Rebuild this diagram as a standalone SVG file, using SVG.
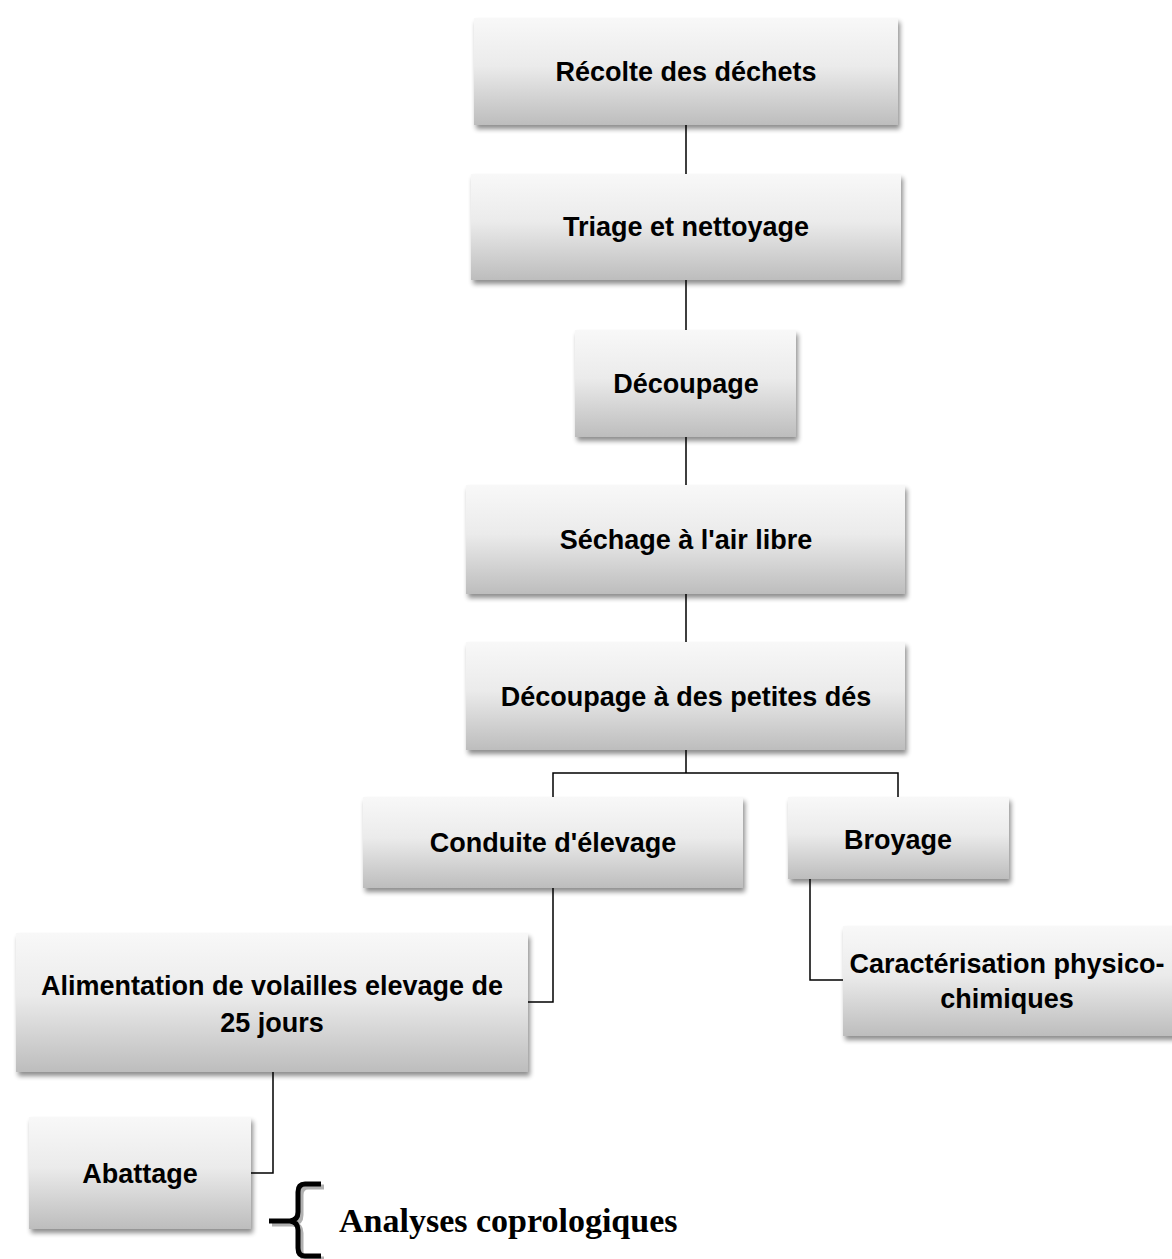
<svg xmlns="http://www.w3.org/2000/svg" width="1172" height="1259" viewBox="0 0 1172 1259">
<defs>
<linearGradient id="g" x1="0" y1="0" x2="0" y2="1">
<stop offset="0" stop-color="#f8f8f8"/>
<stop offset="0.45" stop-color="#ebebeb"/>
<stop offset="1" stop-color="#bdbdbd"/>
</linearGradient>
<filter id="sh" x="-5%" y="-5%" width="115%" height="125%">
<feGaussianBlur in="SourceAlpha" stdDeviation="2.5"/>
<feOffset dx="2" dy="4" result="b"/>
<feComponentTransfer><feFuncA type="linear" slope="0.45"/></feComponentTransfer>
<feMerge><feMergeNode/><feMergeNode in="SourceGraphic"/></feMerge>
</filter>
</defs>
<style>
.box{fill:url(#g);filter:url(#sh)}
.t{font-family:"Liberation Sans",Arial,sans-serif;font-weight:bold;font-size:27px;fill:#000;text-anchor:middle}
.c{fill:none;stroke:#000;stroke-width:1.5}
.an{font-family:"Liberation Serif","Times New Roman",serif;font-weight:bold;font-size:34px;fill:#000}
</style>
<rect width="1172" height="1259" fill="#fff"/>
<g id="connectors">
<path class="c" d="M686 125V174M686 280V330M686 437V485M686 594V642M686 750V773M553 797V773H898V797"/>
<path class="c" d="M553 888V1002H528"/>
<path class="c" d="M810 879V980H843"/>
<path class="c" d="M273 1072V1173H251"/>
</g>
<g id="n1"><rect class="box" x="474" y="18" width="424" height="107"/><text class="t" x="686" y="81">Récolte des déchets</text></g>
<g id="n2"><rect class="box" x="471" y="174" width="430" height="106"/><text class="t" x="686" y="236">Triage et nettoyage</text></g>
<g id="n3"><rect class="box" x="575" y="330" width="221" height="107"/><text class="t" x="686" y="393">Découpage</text></g>
<g id="n4"><rect class="box" x="466" y="485" width="439" height="109"/><text class="t" x="686" y="549">Séchage à l'air libre</text></g>
<g id="n5"><rect class="box" x="466" y="642" width="439" height="108"/><text class="t" x="686" y="706">Découpage à des petites dés</text></g>
<g id="n6"><rect class="box" x="363" y="797" width="380" height="91"/><text class="t" x="553" y="852">Conduite d'élevage</text></g>
<g id="n7"><rect class="box" x="788" y="797" width="221" height="82"/><text class="t" x="898" y="849">Broyage</text></g>
<g id="n8"><rect class="box" x="843" y="926" width="340" height="110"/><text class="t" x="1007" y="973">Caractérisation physico-</text><text class="t" x="1007" y="1008">chimiques</text></g>
<g id="n9"><rect class="box" x="16" y="933" width="512" height="139"/><text class="t" x="272" y="995">Alimentation de volailles elevage de</text><text class="t" x="272" y="1032">25 jours</text></g>
<g id="n10"><rect class="box" x="29" y="1117" width="222" height="112"/><text class="t" x="140" y="1183">Abattage</text></g>
<g id="brace">
<path d="M321 1184H305Q298 1184 298 1192V1212Q298 1220 290 1221H269M290 1221Q298 1222 298 1230V1248Q298 1256 305 1256H321" fill="none" stroke="#b0b0b0" stroke-width="5" transform="translate(3 3)"/>
<path d="M321 1184H305Q298 1184 298 1192V1212Q298 1220 290 1221H269M290 1221Q298 1222 298 1230V1248Q298 1256 305 1256H321" fill="none" stroke="#000" stroke-width="5"/>
<text class="an" x="339" y="1232">Analyses coprologiques</text>
</g>
</svg>
